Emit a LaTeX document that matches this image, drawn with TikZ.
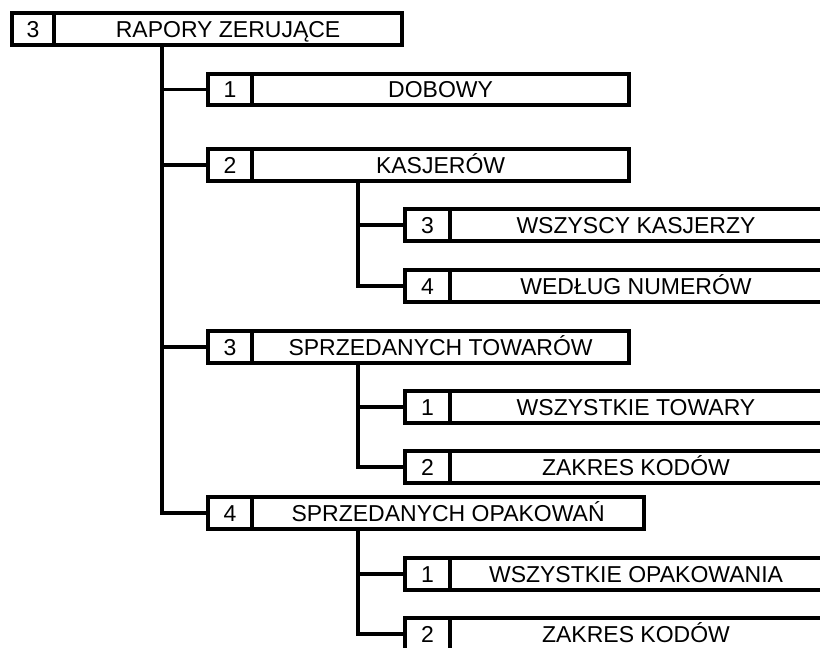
\documentclass[tikz,border=0pt]{standalone}
\usepackage{fontspec}
\setmainfont{Liberation Sans}
\usepackage{tikz}
\usetikzlibrary{
    positioning
}
\tikzstyle{numcell} = [
    rectangle,
    draw=black,
    line width=3.6pt,
    outer sep=0pt,
    inner sep=0pt,
    minimum height=31.5pt,
    text height=16.5pt,
    text depth=0pt,
    anchor=west,
    font=\fontsize{23}{26}\selectfont
]
\tikzstyle{menucell} = [
    rectangle,
    draw=black,
    line width=3.6pt,
    outer sep=0pt,
    inner sep=0pt,
    minimum height=31.5pt,
    text height=16.5pt,
    text depth=0pt,
    font=\fontsize{23}{26}\selectfont
]
\tikzstyle{tree} = [
    line width=3.6pt,
    draw=black
]
\begin{document}
\begin{tikzpicture}[x=1pt, y=-1pt]
        \useasboundingbox (0,0) rectangle (820,648);
        \clip (0,0) rectangle (820,648);

        % Root menu (top)
        \node[numcell, minimum width=42.2pt] (rzn) at (11.8,29) {3};
        \node[menucell, minimum width=348.2pt, right=0pt of rzn] (rz) {RAPORY ZERUJĄCE};

        % First level
        \node[numcell, minimum width=44.2pt] (dobn) at (207.8,89.5) {1};
        \node[menucell, minimum width=377.2pt, right=0pt of dobn] (dob) {DOBOWY};

        \node[numcell, minimum width=44.2pt] (kasn) at (207.8,165) {2};
        \node[menucell, minimum width=377.2pt, right=0pt of kasn] (kas) {KASJERÓW};

        \node[numcell, minimum width=44.2pt] (town) at (207.8,347) {3};
        \node[menucell, minimum width=377.2pt, right=0pt of town] (tow) {SPRZEDANYCH TOWARÓW};

        \node[numcell, minimum width=44.2pt] (opan) at (207.8,513) {4};
        \node[menucell, minimum width=392.2pt, right=0pt of opan] (opa) {SPRZEDANYCH OPAKOWAŃ};

        % Second level - cashiers
        \node[numcell, minimum width=45.2pt] (wkn) at (404.8,225) {3};
        \node[menucell, minimum width=372pt, right=0pt of wkn] (wk) {WSZYSCY KASJERZY};

        \node[numcell, minimum width=45.2pt] (wnn) at (404.8,286) {4};
        \node[menucell, minimum width=372pt, right=0pt of wnn] (wn) {WEDŁUG NUMERÓW};

        % Second level - goods
        \node[numcell, minimum width=45.2pt] (wtn) at (404.8,407) {1};
        \node[menucell, minimum width=372pt, right=0pt of wtn] (wt) {WSZYSTKIE TOWARY};

        \node[numcell, minimum width=45.2pt] (ztn) at (404.8,467) {2};
        \node[menucell, minimum width=372pt, right=0pt of ztn] (zt) {ZAKRES KODÓW};

        % Second level - packages
        \node[numcell, minimum width=45.2pt] (won) at (404.8,574) {1};
        \node[menucell, minimum width=372pt, right=0pt of won] (wo) {WSZYSTKIE OPAKOWANIA};

        \node[numcell, minimum width=45.2pt] (zon) at (404.8,634) {2};
        \node[menucell, minimum width=372pt, right=0pt of zon] (zo) {ZAKRES KODÓW};

        % Tree lines - root to first level
        \draw[tree] ([xshift=108pt]rz.south west) |- (dobn.west);
        \draw[tree] ([xshift=108pt]rz.south west) |- (kasn.west);
        \draw[tree] ([xshift=108pt]rz.south west) |- (town.west);
        \draw[tree] ([xshift=108pt]rz.south west) |- (opan.west);

        % Tree lines - first to second level
        \draw[tree] ([xshift=106pt]kas.south west) |- (wkn.west);
        \draw[tree] ([xshift=106pt]kas.south west) |- (wnn.west);
        \draw[tree] ([xshift=106pt]tow.south west) |- (wtn.west);
        \draw[tree] ([xshift=106pt]tow.south west) |- (ztn.west);
        \draw[tree] ([xshift=106pt]opa.south west) |- (won.west);
        \draw[tree] ([xshift=106pt]opa.south west) |- (zon.west);
    \end{tikzpicture}
\end{document}
